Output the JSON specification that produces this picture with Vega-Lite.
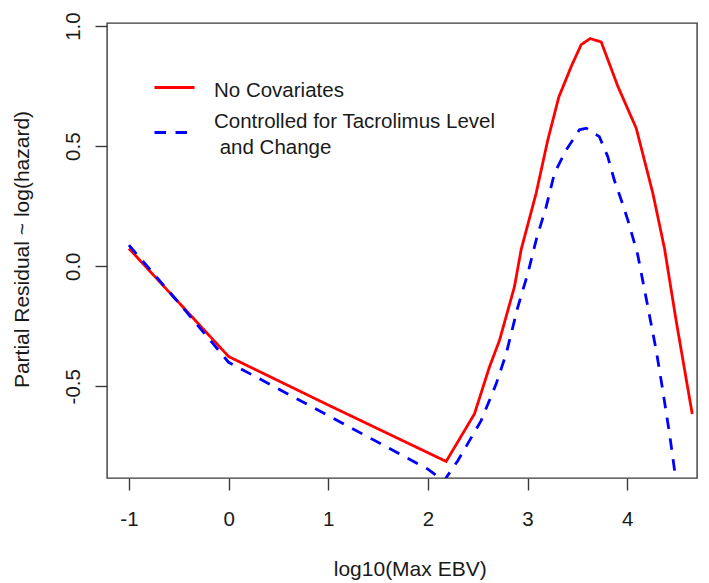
{
  "$schema": "https://vega.github.io/schema/vega-lite/v6.json",
  "width": 590,
  "height": 455,
  "autosize": "none",
  "padding": {"left": 107, "top": 23, "right": 12, "bottom": 105},
  "background": "white",
  "data": {
    "values": [
      {"series": "No Covariates", "x": -1.0, "y": 0.074},
      {"series": "No Covariates", "x": 0.0, "y": -0.376},
      {"series": "No Covariates", "x": 1.0, "y": -0.578},
      {"series": "No Covariates", "x": 2.183, "y": -0.813},
      {"series": "No Covariates", "x": 2.467, "y": -0.615},
      {"series": "No Covariates", "x": 2.617, "y": -0.42},
      {"series": "No Covariates", "x": 2.718, "y": -0.309},
      {"series": "No Covariates", "x": 2.868, "y": -0.086},
      {"series": "No Covariates", "x": 2.936, "y": 0.07},
      {"series": "No Covariates", "x": 3.086, "y": 0.304},
      {"series": "No Covariates", "x": 3.203, "y": 0.526},
      {"series": "No Covariates", "x": 3.313, "y": 0.704},
      {"series": "No Covariates", "x": 3.438, "y": 0.832},
      {"series": "No Covariates", "x": 3.538, "y": 0.923},
      {"series": "No Covariates", "x": 3.628, "y": 0.948},
      {"series": "No Covariates", "x": 3.739, "y": 0.934},
      {"series": "No Covariates", "x": 3.906, "y": 0.749},
      {"series": "No Covariates", "x": 4.09, "y": 0.575},
      {"series": "No Covariates", "x": 4.257, "y": 0.304},
      {"series": "No Covariates", "x": 4.374, "y": 0.074},
      {"series": "No Covariates", "x": 4.49, "y": -0.225},
      {"series": "No Covariates", "x": 4.652, "y": -0.615},
      {"series": "Controlled for Tacrolimus Level and Change", "x": -1.0, "y": 0.088},
      {"series": "Controlled for Tacrolimus Level and Change", "x": -0.488, "y": -0.158},
      {"series": "Controlled for Tacrolimus Level and Change", "x": 0.0, "y": -0.40},
      {"series": "Controlled for Tacrolimus Level and Change", "x": 1.0, "y": -0.622},
      {"series": "Controlled for Tacrolimus Level and Change", "x": 2.0, "y": -0.845},
      {"series": "Controlled for Tacrolimus Level and Change", "x": 2.16, "y": -0.895},
      {"series": "Controlled for Tacrolimus Level and Change", "x": 2.3, "y": -0.81},
      {"series": "Controlled for Tacrolimus Level and Change", "x": 2.534, "y": -0.643},
      {"series": "Controlled for Tacrolimus Level and Change", "x": 2.685, "y": -0.49},
      {"series": "Controlled for Tacrolimus Level and Change", "x": 2.785, "y": -0.365},
      {"series": "Controlled for Tacrolimus Level and Change", "x": 2.902, "y": -0.17},
      {"series": "Controlled for Tacrolimus Level and Change", "x": 3.002, "y": -0.031},
      {"series": "Controlled for Tacrolimus Level and Change", "x": 3.086, "y": 0.109},
      {"series": "Controlled for Tacrolimus Level and Change", "x": 3.187, "y": 0.248},
      {"series": "Controlled for Tacrolimus Level and Change", "x": 3.27, "y": 0.387},
      {"series": "Controlled for Tacrolimus Level and Change", "x": 3.387, "y": 0.484},
      {"series": "Controlled for Tacrolimus Level and Change", "x": 3.52, "y": 0.568},
      {"series": "Controlled for Tacrolimus Level and Change", "x": 3.588, "y": 0.575},
      {"series": "Controlled for Tacrolimus Level and Change", "x": 3.72, "y": 0.54},
      {"series": "Controlled for Tacrolimus Level and Change", "x": 3.805, "y": 0.456},
      {"series": "Controlled for Tacrolimus Level and Change", "x": 3.87, "y": 0.359},
      {"series": "Controlled for Tacrolimus Level and Change", "x": 3.94, "y": 0.276},
      {"series": "Controlled for Tacrolimus Level and Change", "x": 4.006, "y": 0.192},
      {"series": "Controlled for Tacrolimus Level and Change", "x": 4.073, "y": 0.095},
      {"series": "Controlled for Tacrolimus Level and Change", "x": 4.106, "y": 0.046},
      {"series": "Controlled for Tacrolimus Level and Change", "x": 4.207, "y": -0.17},
      {"series": "Controlled for Tacrolimus Level and Change", "x": 4.291, "y": -0.351},
      {"series": "Controlled for Tacrolimus Level and Change", "x": 4.357, "y": -0.518},
      {"series": "Controlled for Tacrolimus Level and Change", "x": 4.425, "y": -0.7},
      {"series": "Controlled for Tacrolimus Level and Change", "x": 4.485, "y": -0.88},
      {"series": "Controlled for Tacrolimus Level and Change", "x": 4.52, "y": -1.0}
    ]
  },
  "mark": {"type": "line", "strokeWidth": 2.8, "clip": true},
  "encoding": {
    "x": {
      "field": "x",
      "type": "quantitative",
      "scale": {"domain": [-1.22, 4.70], "nice": false, "zero": false},
      "axis": {
        "title": "log10(Max EBV)",
        "values": [-1, 0, 1, 2, 3, 4],
        "labelExpr": "(datum.value < 0 ? '-' : '') + format(abs(datum.value), 'd')",
        "domain": false,
        "grid": false,
        "tickSize": 12,
        "labelPadding": 19,
        "labelFlush": false,
        "labelOverlap": false,
        "titleX": 302.7,
        "titleY": 97,
        "titleAlign": "center",
        "titleBaseline": "alphabetic"
      }
    },
    "y": {
      "field": "y",
      "type": "quantitative",
      "scale": {"domain": [-0.882, 1.013], "nice": false, "zero": false},
      "axis": {
        "title": "Partial Residual ~ log(hazard)",
        "values": [-0.5, 0, 0.5, 1],
        "labelExpr": "(datum.value < 0 ? '-' : '') + format(abs(datum.value), '.1f')",
        "domain": false,
        "grid": false,
        "tickSize": 12,
        "labelPadding": 16,
        "labelAngle": -90,
        "labelAlign": "center",
        "labelBaseline": "alphabetic",
        "labelFlush": false,
        "labelOverlap": false,
        "titleAngle": -90,
        "titleX": -79,
        "titleY": 226,
        "titleAlign": "center",
        "titleBaseline": "alphabetic"
      }
    },
    "color": {
      "field": "series",
      "type": "nominal",
      "scale": {"domain": ["No Covariates", "Controlled for Tacrolimus Level and Change"], "range": ["#FF0000", "#0000FF"]},
      "legend": {
        "title": null,
        "labelExpr": "datum.label == 'Controlled for Tacrolimus Level and Change' ? ['Controlled for Tacrolimus Level', '\u200b and Change'] : datum.label",
        "encode": {
          "labels": {
            "update": {
              "lineHeight": {"value": 26},
              "dy": {"signal": "datum.index == 1 ? -10.5 : 3"}
            }
          }
        }
      }
    },
    "strokeDash": {
      "field": "series",
      "type": "nominal",
      "scale": {"domain": ["No Covariates", "Controlled for Tacrolimus Level and Change"], "range": [[1, 0], [11.5, 9.5]]},
      "legend": {
        "title": null,
        "labelExpr": "datum.label == 'Controlled for Tacrolimus Level and Change' ? ['Controlled for Tacrolimus Level', '\u200b and Change'] : datum.label",
        "encode": {
          "labels": {
            "update": {
              "lineHeight": {"value": 26},
              "dy": {"signal": "datum.index == 1 ? -10.5 : 3"}
            }
          }
        }
      }
    }
  },
  "config": {
    "view": {"stroke": "#3a3a3a", "strokeWidth": 1.4},
    "font": "Liberation Sans",
    "axis": {
      "labelFont": "Liberation Sans",
      "labelFontSize": 20.5,
      "labelColor": "#1a1a1a",
      "titleFont": "Liberation Sans",
      "titleFontSize": 21,
      "titleFontWeight": "normal",
      "titleColor": "#1a1a1a",
      "tickColor": "#3a3a3a",
      "tickWidth": 1.4
    },
    "legend": {
      "orient": "none",
      "legendX": 46,
      "legendY": 43,
      "padding": 0,
      "symbolType": "stroke",
      "symbolSize": 1600,
      "symbolStrokeWidth": 2.8,
      "labelFont": "Liberation Sans",
      "labelFontSize": 20.5,
      "labelColor": "#1a1a1a",
      "labelOffset": 18,
      "labelLimit": 0,
      "rowPadding": 10
    }
  }
}
